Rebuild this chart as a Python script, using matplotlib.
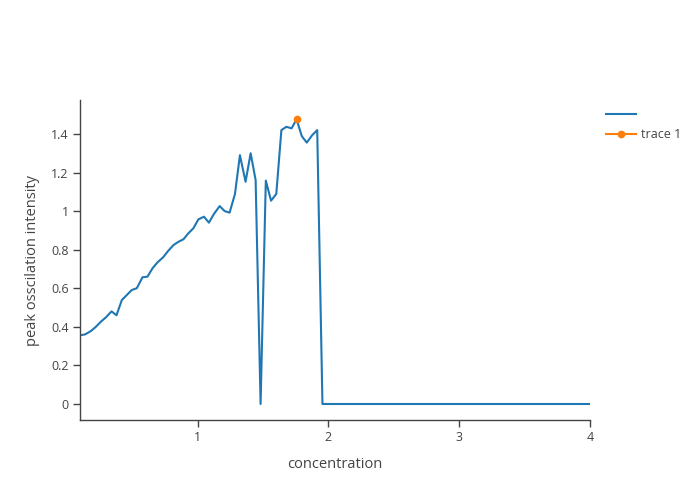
import numpy as np
import matplotlib as mpl
mpl.use('Agg')
import matplotlib.pyplot as plt
from matplotlib.ticker import FormatStrFormatter
#
#--- data
#
conc = [0.100, 0.140, 0.183, 0.221, 0.260, 0.298, 0.341, 0.379, 0.420, 0.458,
        0.496, 0.534, 0.578, 0.616, 0.654, 0.692, 0.735, 0.776, 0.815, 0.853,
        0.891, 0.929, 0.967, 1.005, 1.048, 1.086, 1.124, 1.168, 1.206, 1.244,
        1.285, 1.323, 1.366, 1.405, 1.443, 1.481, 1.521, 1.561, 1.601, 1.640,
        1.678, 1.718, 1.756, 1.796, 1.834, 1.876, 1.914, 1.954, 4.000]

intensity = [0.356, 0.361, 0.378, 0.400, 0.427, 0.449, 0.480, 0.460, 0.539, 0.565,
             0.591, 0.600, 0.657, 0.660, 0.703, 0.734, 0.760, 0.795, 0.824, 0.841,
             0.854, 0.885, 0.911, 0.957, 0.971, 0.940, 0.985, 1.026, 1.000, 0.992,
             1.089, 1.290, 1.152, 1.300, 1.161, 0.000, 1.158, 1.054, 1.089, 1.420,
             1.437, 1.429, 1.476, 1.389, 1.355, 1.394, 1.420, 0.000, 0.000]
#
#--- peak point (trace 1)
#
peak_x = [1.756]
peak_y = [1.476]

yticks = [0, 0.2, 0.4, 0.6, 0.8, 1.0, 1.2, 1.4]
xticks = [1, 2, 3, 4]
#
#--- plotting set up
#
plt.close('all')
mpl.rcParams['font.family'] = ['Open Sans', 'DejaVu Sans']
mpl.rcParams['font.size'] = 9

fig = plt.figure(figsize=(7, 5), dpi=100)
ax = fig.add_axes([80 / 700, 80 / 500, 510 / 700, 320 / 500])

line, = ax.plot(conc, intensity, color='#1f77b4', lw=1.5, label=' ')
pk, = ax.plot(peak_x, peak_y, color='#ff7f0e', lw=1.5, marker='o', ms=4.5,
              label='trace 1')

ax.set_xlim(0.1, 4.0)
ax.set_ylim(-0.083, 1.576)
ax.set_xticks(xticks)
ax.set_yticks(yticks)
ax.yaxis.set_major_formatter(FormatStrFormatter('%g'))
#
#--- axes styling
#
for side in ('top', 'right'):
    ax.spines[side].set_visible(False)
for side in ('left', 'bottom'):
    ax.spines[side].set_color('#444444')
    ax.spines[side].set_linewidth(1.0)

ax.tick_params(direction='out', length=5, width=1, color='#444444',
               labelcolor='#444444', labelsize=9, pad=3)

ax.set_xlabel('concentration', fontsize=10.5, color='#444444', labelpad=9)
ax.set_ylabel('peak osscilation intensity', fontsize=10.5, color='#444444',
              labelpad=8)
#
#--- legend on the right
#
leg = fig.legend(handles=[line, pk], labels=[' ', 'trace 1'], loc='upper left',
                 bbox_to_anchor=(600 / 700, 398 / 500), frameon=False,
                 handlelength=2.4, handletextpad=0.4, labelspacing=0.55,
                 borderpad=0, fontsize=9)
for t in leg.get_texts():
    t.set_color('#444444')

plt.savefig('out.png', format='png', dpi=100)
